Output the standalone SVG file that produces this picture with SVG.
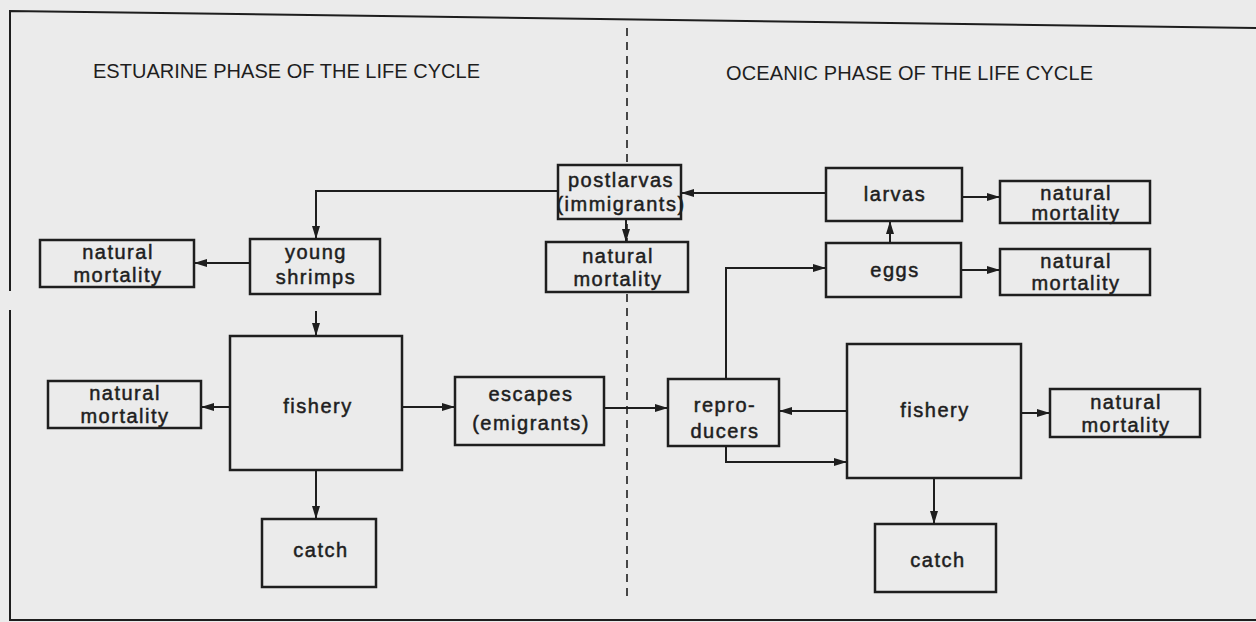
<svg xmlns="http://www.w3.org/2000/svg" width="1256" height="622" viewBox="0 0 1256 622">
<style>
.box{fill:#ebebeb;stroke:#1e1e1e;stroke-width:2.5}
.lbl{font-family:"Liberation Sans",Arial,sans-serif;font-size:20px;fill:#1e1e1e;stroke:#1e1e1e;stroke-width:0.5;text-anchor:middle;letter-spacing:1.5px}
.ttl{font-family:"Liberation Sans",Arial,sans-serif;font-size:20px;fill:#1e1e1e}
.con{fill:none;stroke:#1e1e1e;stroke-width:2}
.frame{fill:none;stroke:#1e1e1e;stroke-width:2}
</style>
<defs>
<marker id="ah" markerUnits="userSpaceOnUse" markerWidth="14" markerHeight="10" refX="13" refY="5" orient="auto">
<path d="M0,1 L13,5 L0,9 z" fill="#1e1e1e"/>
</marker>
</defs>
<rect width="1256" height="622" fill="#ebebeb"/>
<g id="frame">
<polyline class="frame" points="1256,28 10,11 10,291"/>
<polyline class="frame" points="10,310 10,620 1256,620"/>
<line x1="627" y1="28" x2="627" y2="600" stroke="#1e1e1e" stroke-width="1.6" stroke-dasharray="8,6"/>
<text class="ttl" x="93" y="78" textLength="387" lengthAdjust="spacing">ESTUARINE PHASE OF THE LIFE CYCLE</text>
<text class="ttl" x="726" y="80" textLength="367" lengthAdjust="spacing">OCEANIC PHASE OF THE LIFE CYCLE</text>
</g>
<g id="connectors">
<polyline class="con" points="558,191 316,191 316,239" marker-end="url(#ah)"/>
<line class="con" x1="826" y1="193" x2="681" y2="193" marker-end="url(#ah)"/>
<line class="con" x1="626" y1="219" x2="626" y2="242" marker-end="url(#ah)"/>
<line class="con" x1="962" y1="197" x2="1000" y2="197" marker-end="url(#ah)"/>
<line class="con" x1="890" y1="243" x2="890" y2="221" marker-end="url(#ah)"/>
<line class="con" x1="961" y1="270" x2="1000" y2="270" marker-end="url(#ah)"/>
<line class="con" x1="250" y1="263" x2="194" y2="263" marker-end="url(#ah)"/>
<line class="con" x1="316" y1="311" x2="316" y2="336" marker-end="url(#ah)"/>
<line class="con" x1="230" y1="407" x2="201" y2="407" marker-end="url(#ah)"/>
<line class="con" x1="402" y1="407" x2="455" y2="407" marker-end="url(#ah)"/>
<line class="con" x1="316" y1="470" x2="316" y2="519" marker-end="url(#ah)"/>
<line class="con" x1="604" y1="408" x2="668" y2="408" marker-end="url(#ah)"/>
<polyline class="con" points="726,379 726,268 826,268" marker-end="url(#ah)"/>
<line class="con" x1="847" y1="411" x2="779" y2="411" marker-end="url(#ah)"/>
<polyline class="con" points="726,446 726,462 847,462" marker-end="url(#ah)"/>
<line class="con" x1="1021" y1="413" x2="1050" y2="413" marker-end="url(#ah)"/>
<line class="con" x1="934" y1="478" x2="934" y2="524" marker-end="url(#ah)"/>
</g>
<g id="postlarvas">
<rect class="box" x="558" y="165" width="123" height="54"/>
<text class="lbl" x="621" y="187">postlarvas</text>
<text class="lbl" x="621" y="211">(immigrants)</text>
</g>
<g id="nm-postlarvas">
<rect class="box" x="546" y="242" width="142" height="50"/>
<text class="lbl" x="618" y="263">natural</text>
<text class="lbl" x="618" y="286">mortality</text>
</g>
<g id="larvas">
<rect class="box" x="826" y="168" width="136" height="53"/>
<text class="lbl" x="895" y="201">larvas</text>
</g>
<g id="nm-larvas">
<rect class="box" x="1000" y="181" width="150" height="42"/>
<text class="lbl" x="1076" y="200">natural</text>
<text class="lbl" x="1076" y="220">mortality</text>
</g>
<g id="eggs">
<rect class="box" x="826" y="243" width="135" height="54"/>
<text class="lbl" x="895" y="277">eggs</text>
</g>
<g id="nm-eggs">
<rect class="box" x="1000" y="249" width="150" height="46"/>
<text class="lbl" x="1076" y="268">natural</text>
<text class="lbl" x="1076" y="290">mortality</text>
</g>
<g id="nm-young">
<rect class="box" x="40" y="240" width="154" height="47"/>
<text class="lbl" x="118" y="259">natural</text>
<text class="lbl" x="118" y="282">mortality</text>
</g>
<g id="young-shrimps">
<rect class="box" x="250" y="239" width="130" height="55"/>
<text class="lbl" x="316" y="259">young</text>
<text class="lbl" x="316" y="284">shrimps</text>
</g>
<g id="fishery-left">
<rect class="box" x="230" y="336" width="172" height="134"/>
<text class="lbl" x="318" y="413">fishery</text>
</g>
<g id="nm-fishery-left">
<rect class="box" x="48" y="381" width="153" height="47"/>
<text class="lbl" x="125" y="400">natural</text>
<text class="lbl" x="125" y="423">mortality</text>
</g>
<g id="escapes">
<rect class="box" x="455" y="377" width="149" height="68"/>
<text class="lbl" x="531" y="401">escapes</text>
<text class="lbl" x="531" y="430">(emigrants)</text>
</g>
<g id="catch-left">
<rect class="box" x="262" y="519" width="114" height="68"/>
<text class="lbl" x="321" y="557">catch</text>
</g>
<g id="reproducers">
<rect class="box" x="668" y="379" width="111" height="67"/>
<text class="lbl" x="725" y="412">repro-</text>
<text class="lbl" x="725" y="438">ducers</text>
</g>
<g id="fishery-right">
<rect class="box" x="847" y="344" width="174" height="134"/>
<text class="lbl" x="935" y="417">fishery</text>
</g>
<g id="nm-fishery-right">
<rect class="box" x="1050" y="389" width="150" height="48"/>
<text class="lbl" x="1126" y="409">natural</text>
<text class="lbl" x="1126" y="432">mortality</text>
</g>
<g id="catch-right">
<rect class="box" x="875" y="524" width="121" height="68"/>
<text class="lbl" x="938" y="567">catch</text>
</g>
</svg>
